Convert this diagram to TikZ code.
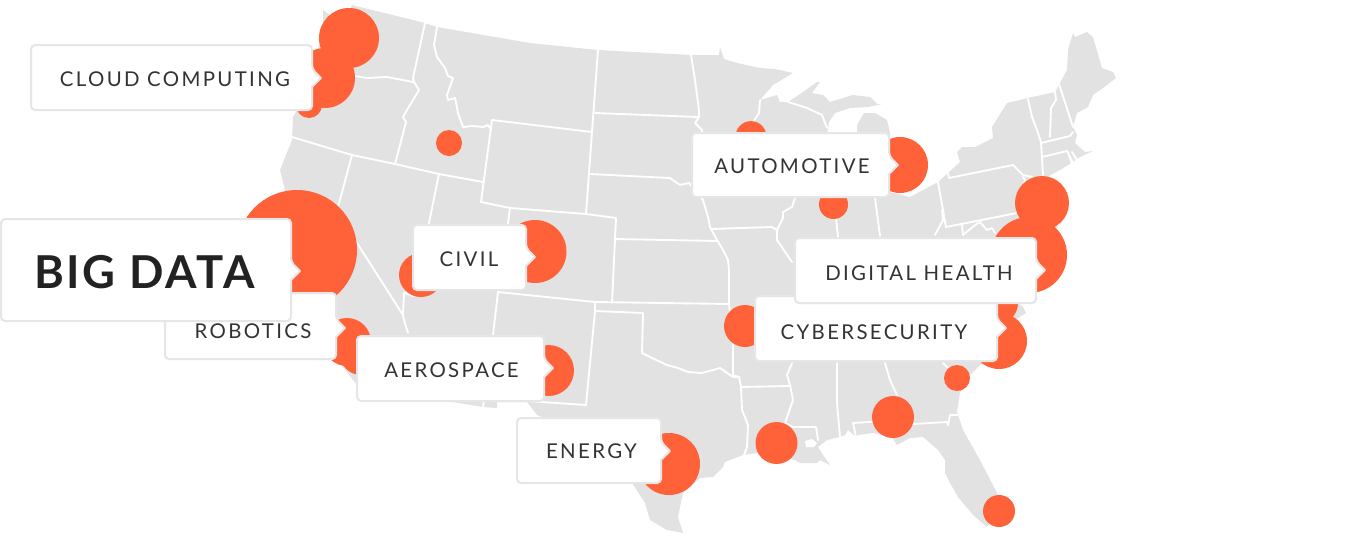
\documentclass[tikz,border=0pt]{standalone}
\usepackage{fontspec}
\setmainfont{Lato}
\definecolor{mapgray}{HTML}{E2E2E2}
\definecolor{spot}{HTML}{FF6239}
\definecolor{edgegray}{HTML}{E6E6E6}
\definecolor{inkgray}{HTML}{333333}
\definecolor{inkdark}{HTML}{222222}
\newfontfamily\taglight[LetterSpace=11.5]{Lato}
\newfontfamily\tagbold[LetterSpace=6]{Lato Bold}
\tikzset{
  x=0.75pt,y=-0.75pt,
  land/.style={fill=mapgray,draw=none},
  border/.style={draw=white,line width=1.4pt,line join=round,line cap=round},
  spotfill/.style={fill=spot,draw=none},
  tagbox/.style={fill=white,draw=edgegray,line width=1.5pt,line join=round},
  tagtext/.style={inner sep=0pt,text=inkgray,font=\taglight\fontsize{15.3pt}{18pt}\selectfont},
  bigtext/.style={inner sep=0pt,text=inkdark,font=\tagbold\fontsize{34pt}{38pt}\selectfont}
}
% #1 name, #2 x1, #3 y1, #4 x2, #5 y2, #6 tip y
\newcommand\maptagbox[6]{%
  \draw[tagbox] (#2,#3) [rounded corners=3pt] -- (#4,#3) -- (#4,#6-9) [sharp corners] -- (#4+9,#6) -- (#4,#6+9) [rounded corners=3pt] -- (#4,#5) -- (#2,#5) -- cycle;
}
\begin{document}
\begin{tikzpicture}
\useasboundingbox (0,0) rectangle (1360,540);
% land
\fill[land] (352,5)--(425,23)--(437,27)--(530,43)--(598,50)--(691,55)--(719,55)--(720,47)--(724,59)--(737,63)--(760,68)--(775,69)--(793,73)--(773,85)--(760,100)--(777,95)--(780,102)--(788,102)--(803,92)--(817,82)--(820,82)--(812,93)--(823,95)--(830,102)--(840,99)--(853,95)--(870,97)--(877,104)--(882,104)--(868,107)--(850,108)--(835,113)--(829,122)--(827,135)--(857,135)--(857,125)--(864,113)--(875,113)--(887,120)--(890,133)--(890,192)--(910,197)--(938,182)--(960,162)--(957,152)--(962,147)--(975,147)--(993,138)--(992,127)--(1007,103)--(1028,98)--(1055,92)--(1060,83)--(1067,70)--(1068,50)--(1073,33)--(1075,37)--(1087,32)--(1093,37)--(1102,68)--(1113,72)--(1116,78)--(1103,88)--(1093,95)--(1088,107)--(1077,113)--(1073,127)--(1077,135)--(1075,143)--(1085,152)--(1093,151)--(1080,157)--(1062,169)--(1047,177)--(1060,200)--(1055,240)--(1030,285)--(1022,292)--(1019,304)--(1023,307)--(1026,313)--(1018,318)--(1012,340)--(1000,360)--(980,365)--(968,377)--(960,393)--(957,412)--(963,430)--(980,460)--(997,493)--(1000,510)--(987,527)--(973,515)--(958,497)--(950,483)--(945,473)--(945,460)--(938,450)--(923,437)--(910,438)--(897,445)--(892,437)--(873,433)--(858,435)--(856,437)--(848,430)--(845,435)--(840,437)--(827,440)--(818,447)--(825,458)--(830,465)--(820,460)--(817,463)--(800,463)--(795,460)--(757,453)--(743,455)--(730,460)--(725,462)--(723,467)--(713,477)--(700,478)--(683,493)--(680,507)--(678,517)--(683,533)--(667,530)--(650,520)--(645,503)--(632,483)--(600,455)--(560,425)--(537,415)--(527,402)--(497,402)--(497,408)--(483,407)--(453,402)--(357,385)--(336,358)--(295,300)--(285,250)--(285,190)--(280,170)--(292,140)--(293,117)--(300,105)--(315,60)--(323,30)--(323,10)--(330,15)--(345,25)--cycle;
\fill[white] (805,441)--(812,439)--(817,443)--(814,447)--(806,447)--cycle;
% state lines
\begin{scope}[border]
\draw (355,76)--(367,78)--(387,77)--(413,82);
\draw (425,23)--(413,78)--(414,82)--(419,90)--(407,110)--(403,117)--(406,122)--(395,164);
\draw (292,137)--(352,155)--(395,164)--(439,174)--(483,182);
\draw (437,27)--(434,45)--(437,57)--(445,68)--(448,76)--(453,78)--(447,95)--(448,100)--(455,98)--(458,113)--(463,127)--(472,126)--(483,127)--(488,125)--(491,130);
\draw (492,120)--(592,132)--(586,214)--(510,208)--(481,202)--cycle;
\draw (598,50)--(592,132);
\draw (595,113)--(698,117);
\draw (590,174)--(670,178)--(680,185)--(689,183)--(703,200)--(708,217)--(710,227)--(717,240)--(723,250)--(728,260)--(729,270)--(729,304);
\draw (586,214)--(616,218)--(612,303);
\draw (615,239)--(717,241);
\draw (439,174)--(429,223)--(423,285)--(404,293);
\draw (404,293)--(413,296);
\draw (510,208)--(508,223)--(498,292)--(493,335)--(483,407);
\draw (498,292)--(595,302)--(729,304);
\draw (595,302)--(595,311)--(586,405)--(527,401);
\draw (595,311)--(643,313)--(642,353)--(652,358)--(667,365)--(678,368)--(688,372)--(702,373)--(720,368)--(733,377)--(739,377)--(741,387)--(742,410)--(748,425)--(747,447)--(744,455);
\draw (729,304)--(733,340)--(733,375)--(739,377);
\draw (733,340)--(755,338);
\draw (741,387)--(789,386);
\draw (352,155)--(338,207)--(357,243)--(403,315)--(404,320)--(408,333);
\draw (404,293)--(403,315);
\draw (691,55)--(695,80)--(699,110)--(699,117)--(695,123)--(702,130)--(703,140);
\draw (712,229)--(772,227)--(777,230);
\draw (795,198)--(792,207)--(783,212)--(783,218)--(777,230)--(777,240)--(792,262);
\draw (792,363)--(787,375)--(790,385)--(793,400)--(785,423)--(793,427)--(816,427)--(818,440);
\draw (837,363)--(837,403)--(840,437);
\draw (885,363)--(890,380)--(897,395);
\draw (856,437)--(853,423)--(883,421);
\draw (913,424)--(947,422)--(948,425)--(950,415)--(958,415);
\draw (943,363)--(948,368);
\draw (760,100)--(759,113)--(753,122);
\draw (788,102)--(807,108)--(822,115)--(827,128);
\draw (836,218)--(838,237);
\draw (875,198)--(880,236);
\draw (948,173)--(949,178)--(1013,165)--(1023,175)--(1032,177);
\draw (1023,177)--(1025,180)--(1017,213)--(946,227)--(938,182);
\draw (942,210)--(943,220)--(935,235);
\draw (962,225)--(963,235)--(975,225)--(980,222)--(987,230)--(992,228)--(995,233);
\draw (1028,99)--(1032,117)--(1037,130)--(1041,142)--(1043,175);
\draw (1055,92)--(1056,100)--(1051,108)--(1050,137);
\draw (1059,84)--(1073,127);
\draw (1041,143)--(1070,136)--(1073,132);
\draw (1042,157)--(1067,151)--(1073,163);
\draw (1068,152)--(1072,164);
\draw (1072,152)--(1077,160);
\draw (1047,179)--(1068,167);
\end{scope}
% spots
\fill[spotfill] (349,38) circle[radius=30];
\fill[spotfill] (325,78) circle[radius=30];
\fill[spotfill] (309,105) circle[radius=13];
\fill[spotfill] (449,143) circle[radius=13];
\fill[spotfill] (297,250) circle[radius=60];
\fill[spotfill] (535,251.5) circle[radius=31.5];
\fill[spotfill] (421,275) circle[radius=22];
\fill[spotfill] (347,342) circle[radius=24];
\fill[spotfill] (361,354) circle[radius=21];
\fill[spotfill] (548.5,370.5) circle[radius=25.5];
\fill[spotfill] (669,464) circle[radius=31];
\fill[spotfill] (776.5,443) circle[radius=21];
\fill[spotfill] (745,326) circle[radius=21];
\fill[spotfill] (751,136.5) circle[radius=15.4];
\fill[spotfill] (900,165) circle[radius=28];
\fill[spotfill] (833.5,204.5) circle[radius=14.5];
\fill[spotfill] (1042,203) circle[radius=27];
\fill[spotfill] (1029,255) circle[radius=38];
\fill[spotfill] (999,341) circle[radius=28];
\fill[spotfill] (997,303) circle[radius=21];
\fill[spotfill] (957,378) circle[radius=13];
\fill[spotfill] (893,417) circle[radius=21];
\fill[spotfill] (999,511) circle[radius=16];
% tags
\maptagbox{cloud}{31}{45}{312}{110}{78}
\node[tagtext] (cloud) at (175,78.7) {CLOUD COMPUTING};
\maptagbox{robotics}{165}{293}{336}{359}{328}
\node[tagtext] (robotics) at (253,330.7) {ROBOTICS};
\maptagbox{bigdata}{1}{219}{291}{321}{271}
\node[bigtext] (bigdata) at (144.5,272.5) {BIG DATA};
\maptagbox{civil}{413}{225}{526}{290}{257}
\node[tagtext] (civil) at (469,258.7) {CIVIL};
\maptagbox{aerospace}{357}{336}{544}{401}{368}
\node[tagtext] (aerospace) at (451.5,369.7) {AEROSPACE};
\maptagbox{energy}{517}{418}{661}{483}{451}
\node[tagtext] (energy) at (591.5,450.7) {ENERGY};
\maptagbox{automotive}{692}{133}{889}{197}{165}
\node[tagtext] (automotive) at (792,165.7) {AUTOMOTIVE};
\maptagbox{cyber}{755}{296}{997}{361}{328}
\node[tagtext] (cyber) at (874,331.7) {CYBERSECURITY};
\maptagbox{digital}{795}{238}{1036}{303}{270}
\node[tagtext] (digital) at (919,272.7) {DIGITAL HEALTH};
\end{tikzpicture}
\end{document}
